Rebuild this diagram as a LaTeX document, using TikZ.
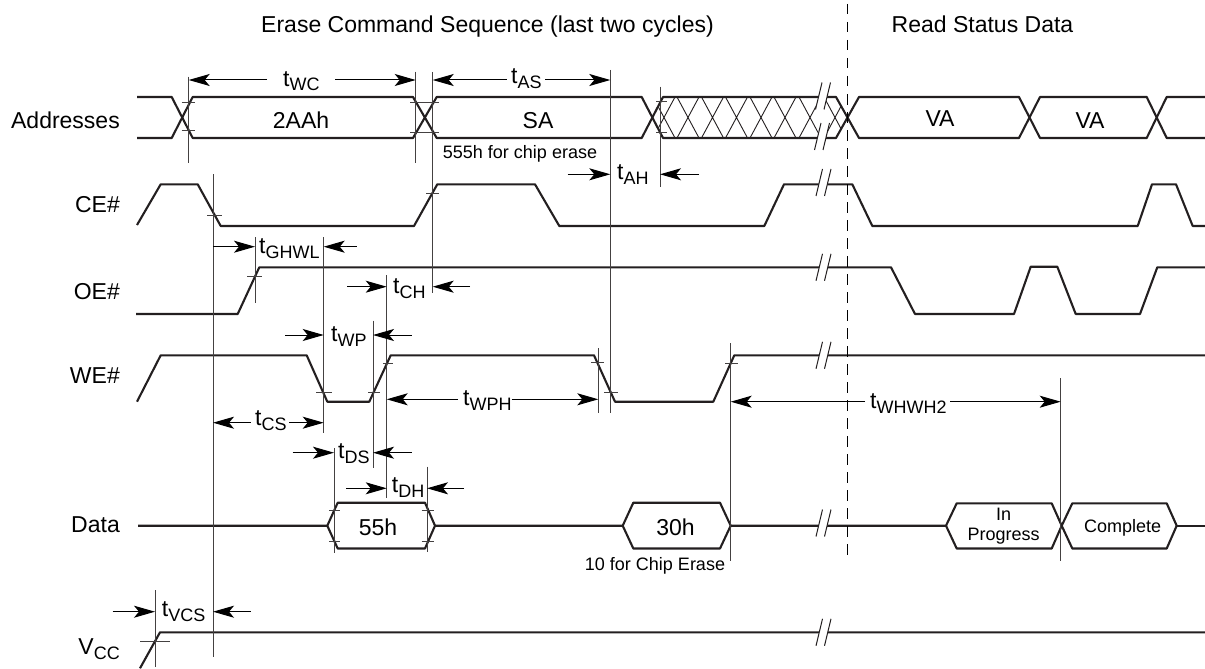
\documentclass[tikz,border=0pt]{standalone}
\usepackage{fontspec}
\setmainfont{Liberation Sans}
\usepackage{xcolor}
\usetikzlibrary{arrows.meta}
\definecolor{TraceInk}{HTML}{231F20}
\newcommand{\tsub}[1]{t\raisebox{-5pt}{\fontsize{18}{18}\selectfont #1}}
\newcommand{\dimarrow}[3]{\draw[dimline] (#1,#3) -- (#2,#3);}
\newcommand{\breakmark}[2]{
  \fill[white] (#1+0.5,#2+13.5) -- (#1+7,#2-13.5) -- (#1+15.5,#2-13.5) -- (#1+9,#2+13.5) -- cycle;
  \draw[breakline] (#1+0.5,#2+13.5) -- (#1+7,#2-13.5) (#1+9,#2+13.5) -- (#1+15.5,#2-13.5);
}
\tikzset{
  trace/.style={draw=TraceInk, line width=2.1pt, line join=round},
  guide/.style={draw=TraceInk!85, line width=1pt},
  hair/.style={draw=TraceInk!85, line width=0.8pt},
  breakline/.style={draw=TraceInk, line width=1pt},
  hatchline/.style={draw=TraceInk, line width=0.9pt},
  dimline/.style={draw=black, line width=1pt, -{Stealth[length=21pt,width=12pt,inset=5pt]}},
  tlabel/.style={anchor=base west, inner sep=0pt, font=\fontsize{23}{23}\selectfont},
  siglabel/.style={anchor=base east, inner sep=0pt, font=\fontsize{23}{23}\selectfont},
  buslabel/.style={anchor=base, inner sep=0pt, font=\fontsize{23}{23}\selectfont},
  notelabel/.style={anchor=base, inner sep=0pt, font=\fontsize{18}{18}\selectfont},
}
\begin{document}
\begin{tikzpicture}[x=1pt,y=-1pt]
\useasboundingbox (0,0) rectangle (1205,669);

% headings and signal names
\node[buslabel] (headErase) at (487.5,33) {Erase Command Sequence (last two cycles)};
\node[buslabel] (headRead) at (982.5,33) {Read Status Data};
\node[siglabel] (sigAddr) at (120,128) {Addresses};
\node[siglabel] (sigCE) at (120,212) {CE\#};
\node[siglabel] (sigOE) at (120,299) {OE\#};
\node[siglabel] (sigWE) at (120,383) {WE\#};
\node[siglabel] (sigData) at (120,532) {Data};
\node[siglabel] (sigVcc) at (120,654) {V\raisebox{-5pt}{\fontsize{18}{18}\selectfont CC}};

% hatched bus section
\begin{scope}
  \clip (652.5,117.5) -- (663,97) -- (836,97) -- (847,117.5) -- (836,138) -- (663,138) -- cycle;
  \foreach \hx in {664,688,712.5,736.5,761,785,810,835}
    \draw[hatchline] (\hx-11,97) -- (\hx+11,138) (\hx+11,97) -- (\hx-11,138);
\end{scope}

% Addresses
\draw[trace] (137,97) -- (171.7,97) -- (192.7,138) -- (413,138) -- (436.7,97) -- (641.7,97) -- (663,138) -- (836,138) -- (859,97) -- (1019,97) -- (1040,138) -- (1146.7,138) -- (1166.7,97) -- (1205,97);
\draw[trace] (137,138) -- (171.7,138) -- (192.7,97) -- (413,97) -- (436.7,138) -- (641.7,138) -- (663,97) -- (836,97) -- (859,138) -- (1019,138) -- (1040,97) -- (1146.7,97) -- (1166.7,138) -- (1205,138);
\node[buslabel] (busA) at (301,128.3) {2AAh};
\node[buslabel] (busB) at (538,128.3) {SA};
\node[buslabel] (busC) at (940,126) {VA};
\node[buslabel] (busD) at (1090,128) {VA};
\node[notelabel] (noteChip) at (520,158.3) {555h for chip erase};

% CE#, OE#, WE#, Vcc
\draw[trace] (137,225) -- (160.7,184.3) -- (197.7,184.3) -- (220.7,226) -- (414,226) -- (437.3,184.3) -- (535,184.3) -- (559.3,226) -- (764.3,226) -- (784,184.3) -- (852.3,184.3) -- (872.3,226) -- (1137.7,226) -- (1152,184.3) -- (1176,184.3) -- (1192.7,226) -- (1205,226);
\draw[trace] (136,314) -- (237.7,314) -- (259.3,267.3) -- (891,267.3) -- (915,314) -- (1014,314) -- (1030.7,266.7) -- (1057.3,266.7) -- (1075.7,314) -- (1140,314) -- (1157.3,267.3) -- (1205,267.3);
\draw[trace] (137,401.7) -- (160.7,355.3) -- (306.7,355.3) -- (327.3,401.7) -- (369.3,401.7) -- (390.7,355.3) -- (594,355.3) -- (615,401.7) -- (713.3,401.7) -- (734.3,355.3) -- (1205,355.3);
\draw[trace] (140,668.3) -- (160,632.3) -- (1205,632.3);

% Data
\draw[trace] (138,525.7) -- (327.3,525.7) -- (337.7,502.7) -- (425,502.7) -- (435,525.7) -- (425,548.5) -- (337.7,548.5) -- (327.3,525.7);
\draw[trace] (435,525.7) -- (622.7,525.7) -- (633.3,502.7) -- (720,502.7) -- (730.7,525.7) -- (720,548.5) -- (633.3,548.5) -- (622.7,525.7);
\draw[trace] (730.7,525.7) -- (946,525.7) -- (956.7,503.3) -- (1051.7,503.3) -- (1061.7,525.7) -- (1051.7,548.5) -- (956.7,548.5) -- (946,525.7);
\draw[trace] (1061.7,525.7) -- (1072.3,503.3) -- (1166.7,503.3) -- (1176.7,525.7) -- (1166.7,548.5) -- (1072.3,548.5) -- (1061.7,525.7);
\draw[trace] (1176.7,525.7) -- (1205,525.7);
\node[buslabel] (busE) at (378,535) {55h};
\node[buslabel] (busF) at (675.5,535) {30h};
\node[notelabel] (noteErase) at (655,570) {10 for Chip Erase};
\node[notelabel] (busG) at (1003.7,520) {In};
\node[notelabel] (busH) at (1003.7,540) {Progress};
\node[notelabel] (busI) at (1122.7,532.7) {Complete};

% breaks in the time axis
\breakmark{815}{96}
\breakmark{814}{136.5}
\foreach \by in {182.5,267.3,355.3,523,632.3}{
  \breakmark{815.5}{\by}
}

% guide lines
\foreach \gx/\ga/\gb in {188.7/76.7/163, 415.7/71.7/163, 432.7/72/293, 610.3/70/413, 660/86.7/186.7,
    213/174/657, 255/237/303, 323.7/237/432.7, 386.7/275/498, 373/320.7/468, 334/448/553,
    427/466.7/551.7, 598.3/348/413, 730.7/343/560.7, 1060.7/378/560.7, 155/590/667}
  \draw[guide] (\gx,\ga) -- (\gx,\gb);
\draw[draw=black, line width=1pt, dash pattern=on 10.5pt off 7.5pt] (847.7,4) -- (847.7,557);

% small ticks on the edges
\foreach \ta/\tb/\ty in {181.7/195/102.7, 181.7/195/130, 410/439/102, 410/439/132, 656/667/101, 656/667/132.7,
    426/439/193.3, 207/222/215, 247/262/276.7, 316/331.7/392.7, 368/380/392.7, 383/393/363.3,
    591/604/362.7, 604/618/392.7, 725/738/363, 329/340/510.7, 329/340/541.7, 421.7/434/510.7,
    421.7/434/541.7, 140/170/641.7}
  \draw[hair] (\ta,\ty) -- (\tb,\ty);

% timing labels
\node[tlabel] (tWC) at (283,86) {\tsub{WC}};
\node[tlabel] (tAS) at (511,83.5) {\tsub{AS}};
\node[tlabel] (tAH) at (617,179) {\tsub{AH}};
\node[tlabel] (tGHWL) at (259,253) {\tsub{GHWL}};
\node[tlabel] (tCH) at (393,293) {\tsub{CH}};
\node[tlabel] (tWP) at (331,341.7) {\tsub{WP}};
\node[tlabel] (tCS) at (255,425) {\tsub{CS}};
\node[tlabel] (tWPH) at (463,405) {\tsub{WPH}};
\node[tlabel] (tDS) at (338,458) {\tsub{DS}};
\node[tlabel] (tDH) at (391.7,492.7) {\tsub{DH}};
\node[tlabel] (tWHWH) at (870,408) {\tsub{WHWH2}};
\node[tlabel] (tVCS) at (161.7,616) {\tsub{VCS}};

% timing arrows
\dimarrow{267}{188.7}{80} \dimarrow{335}{415.7}{80}
\dimarrow{506.7}{432.7}{80} \dimarrow{545}{610.3}{80}
\dimarrow{567.7}{610.3}{174.3} \dimarrow{699}{660}{174.3}
\dimarrow{213}{255}{246.7} \dimarrow{356.7}{323.7}{246.7}
\dimarrow{347.3}{386.7}{286.7} \dimarrow{470}{432.7}{286.7}
\dimarrow{285}{323.7}{335} \dimarrow{411.7}{373}{335}
\dimarrow{250.7}{213}{422.7} \dimarrow{289.3}{323.7}{422.7}
\dimarrow{458}{386.7}{399.3} \dimarrow{511.7}{598.3}{399.3}
\dimarrow{292.7}{334}{452.7} \dimarrow{411.7}{373}{452.7}
\dimarrow{346}{386.7}{488.3} \dimarrow{464}{427}{488.3}
\dimarrow{865}{730.7}{401.7} \dimarrow{950}{1060.7}{401.7}
\dimarrow{112.7}{155}{611.7} \dimarrow{250.7}{213}{611.7}
\end{tikzpicture}
\end{document}
